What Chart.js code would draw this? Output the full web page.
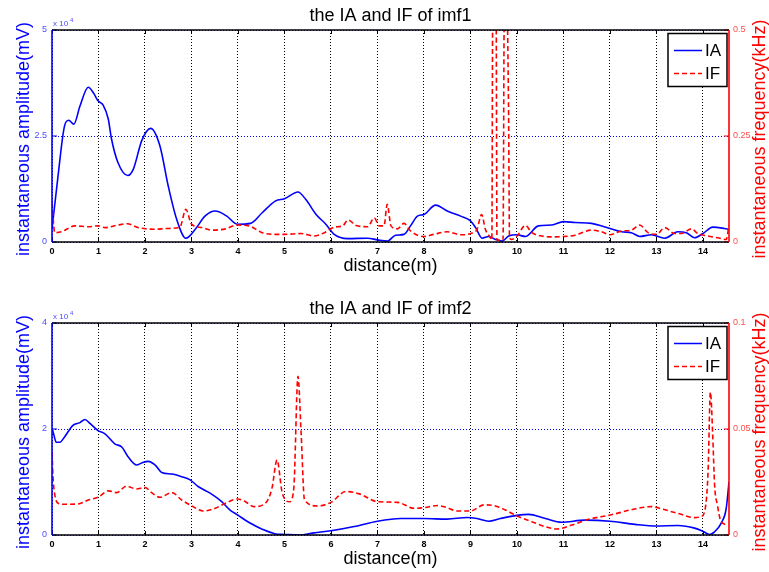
<!DOCTYPE html>
<html>
<head>
<meta charset="utf-8">
<script src="https://cdn.jsdelivr.net/npm/chart.js@4"></script>
<style>
  body { margin: 0; background: #fff; }
  #wrap { position: relative; width: 769px; height: 572px; background: #fff; }
  .panel { position: absolute; left: 0; width: 769px; }
</style>
</head>
<body>
<div id="wrap">
  <div class="panel" style="top:0;height:286px"><canvas id="imf1" width="769" height="286"></canvas></div>
  <div class="panel" style="top:290px;height:282px"><canvas id="imf2" width="769" height="282"></canvas></div>
</div>
<script>
// distance axis (m)
const distMax = 14.56;
const distTicks = [0, 1, 2, 3, 4, 5, 6, 7, 8, 9, 10, 11, 12, 13, 14];

// imf1 - instantaneous amplitude (mV)
const ia1Dist = [0, 0.13, 0.27, 0.36, 0.47, 0.6, 0.78, 0.9, 0.99, 1.1, 1.21, 1.28, 1.42, 1.63, 1.75, 1.93, 2.12, 2.32, 2.5, 2.68, 2.88, 3.08, 3.29, 3.51, 3.76, 3.98, 4.27, 4.52, 4.81, 5.0, 5.29, 5.46, 5.68, 5.89, 6.07, 6.36, 6.79, 7.0, 7.21, 7.39, 7.57, 7.71, 7.86, 8.0, 8.25, 8.5, 8.79, 9.0, 9.11, 9.25, 9.39, 9.54, 9.68, 9.82, 10.0, 10.18, 10.46, 10.75, 11.0, 11.25, 11.6, 12.0, 12.25, 12.46, 12.64, 12.89, 13.18, 13.46, 13.64, 13.82, 14.0, 14.21, 14.46, 14.56];
const ia1Amp = [3000, 15600, 27400, 28700, 27800, 32000, 36500, 35000, 33300, 32300, 29000, 24300, 18700, 15700, 17200, 23900, 26800, 22700, 13200, 5400, 900, 3000, 6100, 7300, 6100, 4200, 4400, 6900, 9700, 10200, 11800, 10000, 6500, 4200, 1800, 800, 900, 500, 200, 1600, 1800, 3800, 6100, 6500, 8700, 7300, 6100, 5000, 3400, 900, 1300, 600, 200, 1400, 1700, 1300, 3800, 4000, 4800, 4600, 4400, 3200, 2400, 2200, 1300, 1700, 900, 2400, 2200, 1000, 2000, 3500, 3200, 3000];

// imf1 - instantaneous frequency (kHz)
const if1Dist = [0, 0.06, 0.2, 0.49, 0.78, 0.99, 1.14, 1.42, 1.62, 1.85, 2.2, 2.5, 2.75, 2.88, 3.0, 3.22, 3.44, 3.73, 3.98, 4.24, 4.52, 4.81, 5.0, 5.36, 5.64, 5.86, 6.07, 6.25, 6.37, 6.54, 6.79, 6.93, 7.04, 7.14, 7.21, 7.29, 7.43, 7.57, 7.71, 8.0, 8.21, 8.5, 8.79, 9.0, 9.14, 9.24, 9.32, 9.43, 9.46, 9.48, 9.55, 9.57, 9.7, 9.73, 9.79, 9.81, 9.82, 9.84, 9.88, 10.0, 10.18, 10.32, 10.54, 10.79, 11.0, 11.25, 11.6, 11.82, 12.0, 12.25, 12.46, 12.64, 12.82, 13.0, 13.18, 13.39, 13.54, 13.75, 13.89, 14.11, 14.32, 14.5, 14.56];
const if1Freq = [0.093, 0.022, 0.024, 0.038, 0.036, 0.038, 0.034, 0.04, 0.043, 0.034, 0.03, 0.032, 0.035, 0.077, 0.042, 0.034, 0.028, 0.031, 0.04, 0.038, 0.022, 0.018, 0.018, 0.02, 0.014, 0.022, 0.035, 0.038, 0.052, 0.039, 0.036, 0.057, 0.038, 0.038, 0.089, 0.038, 0.031, 0.044, 0.026, 0.013, 0.018, 0.024, 0.017, 0.02, 0.03, 0.065, 0.03, 0.01, 0.005, 0.6, 0.6, 0.005, 0.004, 0.6, 0.55, 0.4, 0.3, 0.01, 0.006, 0.014, 0.039, 0.022, 0.014, 0.012, 0.013, 0.016, 0.028, 0.024, 0.017, 0.026, 0.028, 0.04, 0.022, 0.018, 0.034, 0.02, 0.02, 0.031, 0.02, 0.014, 0.01, 0.006, 0.04];

// imf2 - instantaneous amplitude (mV)
const ia2Dist = [0, 0.04, 0.09, 0.17, 0.27, 0.45, 0.6, 0.71, 0.81, 0.99, 1.14, 1.35, 1.5, 1.64, 1.82, 1.93, 2.07, 2.22, 2.36, 2.58, 2.79, 2.97, 3.15, 3.4, 3.65, 3.83, 3.99, 4.23, 4.52, 4.81, 5.0, 5.32, 5.64, 6.0, 6.5, 7.0, 7.5, 8.0, 8.5, 8.93, 9.14, 9.39, 9.64, 10.0, 10.25, 10.61, 10.96, 11.46, 12.0, 12.54, 13.0, 13.46, 13.82, 14.02, 14.14, 14.25, 14.39, 14.5, 14.56];
const ia2Amp = [20200, 18900, 17500, 17500, 18500, 20700, 21200, 21800, 21100, 19700, 19100, 17200, 16600, 14700, 13200, 13600, 13900, 13200, 11800, 11500, 11000, 10400, 9100, 7900, 6300, 4700, 3800, 2400, 1100, 200, 100, 0, 400, 800, 1600, 2600, 3100, 3100, 3000, 3300, 3100, 2600, 3100, 3700, 3900, 3100, 2400, 2800, 2600, 2000, 1700, 1800, 1300, 600, 100, 600, 2200, 5000, 10000];

// imf2 - instantaneous frequency (kHz)
const if2Dist = [0, 0.02, 0.06, 0.13, 0.27, 0.56, 0.78, 0.99, 1.21, 1.39, 1.6, 1.82, 2.0, 2.14, 2.32, 2.58, 2.79, 2.97, 3.26, 3.51, 3.73, 3.99, 4.16, 4.34, 4.59, 4.73, 4.84, 4.95, 5.11, 5.2, 5.29, 5.36, 5.43, 5.71, 6.0, 6.32, 6.61, 7.0, 7.43, 7.79, 8.0, 8.29, 8.5, 8.71, 9.0, 9.29, 9.5, 9.75, 10.0, 10.32, 10.61, 10.86, 11.18, 11.54, 12.0, 12.54, 12.89, 13.11, 13.46, 13.82, 13.96, 14.05, 14.11, 14.16, 14.21, 14.25, 14.31, 14.39, 14.54];
const if2Freq = [0.039, 0.028, 0.019, 0.015, 0.0145, 0.0146, 0.0165, 0.0178, 0.0208, 0.02, 0.023, 0.0217, 0.0224, 0.02, 0.0178, 0.02, 0.0165, 0.0142, 0.0113, 0.0126, 0.015, 0.017, 0.0157, 0.0134, 0.015, 0.022, 0.0354, 0.02, 0.0157, 0.022, 0.0748, 0.047, 0.0165, 0.0137, 0.0154, 0.0205, 0.0194, 0.0157, 0.0154, 0.0126, 0.0129, 0.0139, 0.0129, 0.0113, 0.0113, 0.0142, 0.0139, 0.0118, 0.009, 0.0063, 0.0039, 0.0028, 0.0047, 0.0074, 0.0094, 0.0123, 0.0134, 0.0123, 0.0102, 0.0082, 0.0087, 0.0126, 0.03, 0.0674, 0.047, 0.0236, 0.0142, 0.0063, 0.0047];

// axis ticks
const amp1Ticks = [0, 25000, 50000];
const freq1Ticks = [0, 0.25, 0.5];
const amp2Ticks = [0, 20000, 40000];
const freq2Ticks = [0, 0.05, 0.1];

const seriesLabels = ['IA', 'IF'];
const titles = ['the IA and IF of imf1', 'the IA and IF of imf2'];

const BLUE = '#0000ff';
const RED = '#ff0000';
const FONT = '"Liberation Sans", Arial, Helvetica, sans-serif';
Chart.defaults.font.family = FONT;

function pts(xs, ys) {
  return xs.map((x, i) => ({ x, y: ys[i] }));
}

function line(ctx, x1, y1, x2, y2) {
  ctx.beginPath();
  ctx.moveTo(x1, y1);
  ctx.lineTo(x2, y2);
  ctx.stroke();
}

// matlab-ish box, tick marks, legend and labels
const matlabBox = {
  id: 'matlabBox',
  afterDraw(chart, args, opts) {
    const { ctx, chartArea: a } = chart;
    const sx = chart.scales.x, yl = chart.scales.y, yr = chart.scales.y1;
    ctx.save();

    ctx.lineWidth = 1;
    ctx.strokeStyle = '#000';
    sx.ticks.forEach(t => {
      const px = Math.round(sx.getPixelForValue(t.value)) + 0.5;
      line(ctx, px, a.top, px, a.top + 4);
      line(ctx, px, a.bottom, px, a.bottom - 4);
    });
    ctx.strokeStyle = RED;
    yr.ticks.forEach(t => {
      const py = yr.getPixelForValue(t.value);
      line(ctx, a.right - 5, py, a.right, py);
    });
    ctx.strokeStyle = BLUE;
    yl.ticks.forEach(t => {
      const py = yl.getPixelForValue(t.value);
      line(ctx, a.left, py, a.left + 5, py);
    });

    // frame
    ctx.lineWidth = 1.6;
    ctx.strokeStyle = '#000';
    line(ctx, a.left, a.top, a.right, a.top);
    line(ctx, a.left, a.bottom, a.right, a.bottom);
    ctx.strokeStyle = BLUE;
    line(ctx, a.left, a.top, a.left, a.bottom);
    ctx.strokeStyle = RED;
    line(ctx, a.right, a.top, a.right, a.bottom);

    // legend
    const bw = 59, bh = 53;
    const bx = a.right - bw - 2, by = a.top + 3.5;
    ctx.fillStyle = '#fff';
    ctx.fillRect(bx, by, bw, bh);
    ctx.lineWidth = 1.5;
    ctx.strokeStyle = '#000';
    ctx.strokeRect(bx, by, bw, bh);
    ctx.font = '17px ' + FONT;
    ctx.textAlign = 'left';
    ctx.textBaseline = 'middle';
    const rows = [[BLUE, []], [RED, [5, 3]]];
    rows.forEach((r, i) => {
      const ry = by + 17 + i * 23;
      ctx.strokeStyle = r[0];
      ctx.setLineDash(r[1]);
      line(ctx, bx + 6, ry, bx + 34, ry);
      ctx.setLineDash([]);
      ctx.fillStyle = '#000';
      ctx.fillText(seriesLabels[i], bx + 37, ry + 1);
    });

    // titles
    const cx = (a.left + a.right) / 2, cy = (a.top + a.bottom) / 2;
    ctx.font = '18px ' + FONT;
    ctx.textAlign = 'center';
    ctx.fillStyle = '#000';
    ctx.fillText(opts.title, cx, a.top - 14);
    ctx.fillText('distance(m)', cx, a.bottom + 24);

    ctx.save();
    ctx.translate(24, cy + 3);
    ctx.rotate(-Math.PI / 2);
    ctx.fillStyle = BLUE;
    ctx.fillText('instantaneous amplitude(mV)', 0, 0);
    ctx.restore();

    ctx.save();
    ctx.translate(760, cy + 3);
    ctx.rotate(-Math.PI / 2);
    ctx.fillStyle = RED;
    ctx.fillText('instantaneous frequency(kHz)', 0, 0);
    ctx.restore();

    // exponent label
    ctx.fillStyle = '#4d4dff';
    ctx.textAlign = 'left';
    ctx.textBaseline = 'alphabetic';
    ctx.font = '8px ' + FONT;
    ctx.fillText('x 10', a.left + 1, a.top - 4);
    ctx.font = '6px ' + FONT;
    ctx.fillText('4', a.left + 18, a.top - 8);

    ctx.restore();
  }
};

function makeChart(id, cfg) {
  return new Chart(document.getElementById(id), {
    type: 'line',
    data: {
      datasets: [
        {
          label: seriesLabels[1],
          data: pts(cfg.ifDist, cfg.ifFreq),
          yAxisID: 'y1',
          borderColor: RED,
          borderWidth: 1.6,
          borderDash: [5, 3],
          pointRadius: 0,
          cubicInterpolationMode: 'monotone',
          order: 0
        },
        {
          label: seriesLabels[0],
          data: pts(cfg.iaDist, cfg.iaAmp),
          yAxisID: 'y',
          borderColor: BLUE,
          borderWidth: 1.6,
          pointRadius: 0,
          cubicInterpolationMode: 'monotone',
          order: 1
        }
      ]
    },
    options: {
      responsive: false,
      animation: false,
      events: [],
      layout: { padding: { top: cfg.top, left: 0, right: 0, bottom: 0 } },
      scales: {
        x: {
          type: 'linear',
          min: 0,
          max: distMax,
          afterBuildTicks: s => { s.ticks = distTicks.map(v => ({ value: v })); },
          afterFit: s => { s.height = cfg.xHeight; },
          ticks: { color: '#000', font: { size: 9, weight: 'bold' }, padding: 4, maxRotation: 0 },
          grid: { color: '#000', lineWidth: 1, drawTicks: false },
          border: { display: false, dash: [1, 2] }
        },
        y: {
          position: 'left',
          min: 0,
          max: cfg.ampTicks[2],
          afterBuildTicks: s => { s.ticks = cfg.ampTicks.map(v => ({ value: v })); },
          afterFit: s => { s.width = 52; },
          ticks: { color: '#4d4dff', font: { size: 9 }, padding: 5, callback: v => String(v / 10000) },
          grid: { color: BLUE, lineWidth: 1, drawTicks: false },
          border: { display: false, dash: [1, 2] }
        },
        y1: {
          position: 'right',
          min: 0,
          max: cfg.freqTicks[2],
          afterBuildTicks: s => { s.ticks = cfg.freqTicks.map(v => ({ value: v })); },
          afterFit: s => { s.width = 40; },
          ticks: { color: '#ff4d4d', font: { size: 9 }, padding: 4, callback: v => String(+v.toFixed(4)) },
          grid: { display: false, drawTicks: false },
          border: { display: false }
        }
      },
      plugins: {
        legend: { display: false },
        tooltip: { enabled: false },
        matlabBox: { title: cfg.title }
      }
    },
    plugins: [matlabBox]
  });
}

makeChart('imf1', {
  iaDist: ia1Dist, iaAmp: ia1Amp, ifDist: if1Dist, ifFreq: if1Freq,
  ampTicks: amp1Ticks, freqTicks: freq1Ticks, title: titles[0], top: 30, xHeight: 44
});
makeChart('imf2', {
  iaDist: ia2Dist, iaAmp: ia2Amp, ifDist: if2Dist, ifFreq: if2Freq,
  ampTicks: amp2Ticks, freqTicks: freq2Ticks, title: titles[1], top: 33, xHeight: 37
});
</script>
</body>
</html>
